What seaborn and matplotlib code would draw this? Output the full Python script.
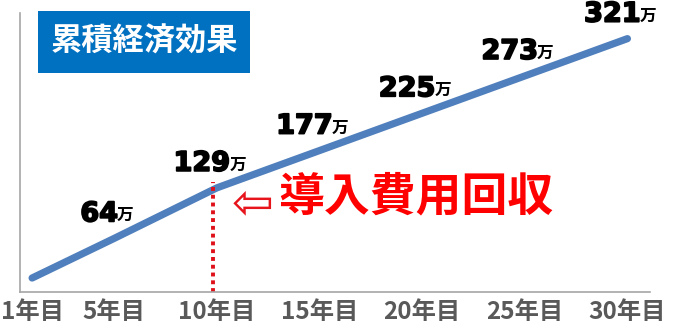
import matplotlib
matplotlib.use("Agg")
import matplotlib.pyplot as plt
from matplotlib.patches import Rectangle
import matplotlib.patheffects as pe
import seaborn as sns
import pandas as pd

years = [1, 5, 10, 15, 20, 25, 30]
values = [13, 64, 129, 177, 225, 273, 321]
label_years = [5, 10, 15, 20, 25, 30]
label_values = [64, 129, 177, 225, 273, 321]
tick_years = [1, 5, 10, 15, 20, 25, 30]
tick_labels = ["1年目", "5年目", "10年目", "15年目", "20年目", "25年目", "30年目"]
payback_year = 9.8
payback_value = 137
title_text = "累積経済効果"
payback_text = "導入費用回収"
unit = "万"

sns.set_theme(style="white")
plt.rcParams['font.family'] = ['Noto Sans CJK JP', 'DejaVu Sans']

W, H = 675, 328
fig = plt.figure(figsize=(W / 100, H / 100), dpi=100)
ax = fig.add_axes([20 / W, (H - 292) / H, 630 / W, (292 - 13) / H])

df = pd.DataFrame({"year": years, "value": values})
sns.lineplot(data=df, x="year", y="value", ax=ax, color="#4F7FBC",
             linewidth=5.2, solid_capstyle="round", solid_joinstyle="round")

ax.set_xlim(0.41, 31.1)
ax.set_ylim(-5, 354)
ax.set_xlabel("")
ax.set_ylabel("")
ax.set_yticks([])
ax.set_xticks(tick_years)
ax.set_xticklabels(tick_labels, fontsize=17.5, fontweight="bold", color="#595959")
ax.tick_params(axis="x", length=0, pad=6)
for s in ["top", "right"]:
    ax.spines[s].set_visible(False)
for s in ["left", "bottom"]:
    ax.spines[s].set_color("#A6A6A6")
    ax.spines[s].set_linewidth(1.2)

# payback marker
ax.plot([payback_year, payback_year], [-5, payback_value], color="#E0101A",
        linestyle=(0, (1, 1)), linewidth=2.8, clip_on=False)

# value labels
heavy = [pe.withStroke(linewidth=1.3, foreground="black")]
for x, v in zip(label_years, label_values):
    t = ax.annotate(str(v), xy=(x, v), xytext=(-15, 24), textcoords="offset pixels",
                    ha="center", va="center", fontsize=19.5, fontweight="bold",
                    family="DejaVu Sans", color="black", path_effects=heavy)
    ax.annotate(unit, xy=(1, 0.12), xycoords=t, xytext=(-1, 0),
                textcoords="offset pixels", ha="left", va="bottom",
                fontsize=12, fontweight="bold", color="black")

# payback text
fig.text(253 / W, 1 - 204 / H, "⇦", ha="center", va="center",
         fontsize=36, color="#E8141C", family=["DejaVu Sans"])
fig.text(416 / W, 1 - 197 / H, payback_text, ha="center", va="center",
         fontsize=33, fontweight="bold", color="#FF0000")

# title box
fig.patches.append(Rectangle((38 / W, 1 - 73 / H), 212 / W, 62 / H,
                             transform=fig.transFigure, facecolor="#0070C0",
                             edgecolor="none", zorder=0))
fig.text(144 / W, 1 - 42 / H, title_text, ha="center", va="center",
         fontsize=22.5, fontweight="bold", color="white")

fig.savefig("out.png", dpi=100, facecolor="white")
